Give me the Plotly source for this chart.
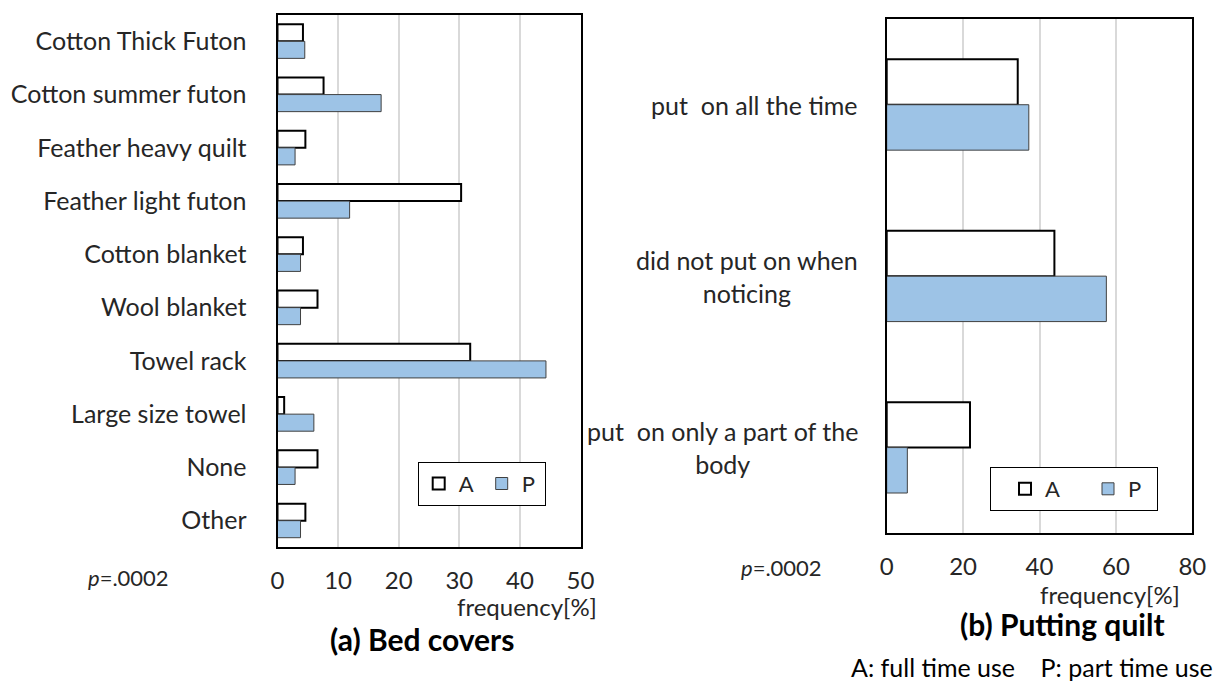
import plotly.graph_objects as go

# ---- data ----
bed_categories = ["Cotton Thick Futon", "Cotton summer futon", "Feather heavy quilt",
                  "Feather light futon", "Cotton blanket", "Wool blanket", "Towel rack",
                  "Large size towel", "None", "Other"]
bed_A = [4.2, 7.6, 4.6, 30.3, 4.2, 6.6, 31.8, 1.1, 6.6, 4.6]
bed_P = [4.5, 17.1, 2.9, 11.9, 3.8, 3.8, 44.3, 6.0, 2.9, 3.8]

quilt_categories = ["put\u00a0 on all the time", "did not put on when<br>noticing",
                    "put\u00a0 on only a part of the<br>body"]
quilt_A = [34.3, 43.9, 21.8]
quilt_P = [37.2, 57.5, 5.4]

left_ticks = [0, 10, 20, 30, 40, 50]
right_ticks = [0, 20, 40, 60, 80]

W, H = 1217, 686
FONT = "Lato"
FS = 25
TICKFS = 24
TXT = "#262626"
BLUE = "#9dc3e6"

def px(x):
    return x / W

def py(y):
    return 1 - y / H

fig = go.Figure()

bwL = 0.32
fig.add_trace(go.Bar(y=bed_categories, x=bed_A, orientation="h", name="A",
                     width=bwL, offset=-bwL,
                     marker=dict(color="white", line=dict(color="black", width=2)),
                     xaxis="x", yaxis="y", legend="legend"))
fig.add_trace(go.Bar(y=bed_categories, x=bed_P, orientation="h", name="P",
                     width=bwL, offset=0,
                     marker=dict(color=BLUE, line=dict(color="#404040", width=1)),
                     xaxis="x", yaxis="y", legend="legend"))

bwR = 0.265
qy = list(range(len(quilt_categories)))
fig.add_trace(go.Bar(y=qy, x=quilt_A, orientation="h", name="A",
                     width=bwR, offset=-bwR,
                     marker=dict(color="white", line=dict(color="black", width=2)),
                     xaxis="x2", yaxis="y2", legend="legend2"))
fig.add_trace(go.Bar(y=qy, x=quilt_P, orientation="h", name="P",
                     width=bwR, offset=0,
                     marker=dict(color=BLUE, line=dict(color="#404040", width=1)),
                     xaxis="x2", yaxis="y2", legend="legend2"))

axis_common = dict(showline=True, mirror=True, linecolor="black", linewidth=2,
                   ticks="", zeroline=False, automargin=False)

fig.update_layout(
    width=W, height=H, autosize=False,
    margin=dict(l=0, r=0, t=0, b=0, pad=0),
    paper_bgcolor="white", plot_bgcolor="white",
    font=dict(family=FONT, size=FS, color=TXT),
    barmode="group",
    xaxis=dict(domain=[px(277.5), px(580.5)], range=[0, 50], tickvals=left_ticks,
               showgrid=True, gridcolor="#d9d9d9", gridwidth=2,
               tickfont=dict(family=FONT, size=TICKFS, color=TXT),
               ticklabelstandoff=11, anchor="y", **axis_common),
    yaxis=dict(domain=[py(547.3), py(14.7)], type="category", autorange="reversed",
               showgrid=False, ticklabelstandoff=24, anchor="x",
               tickfont=dict(family=FONT, size=FS, color=TXT), **axis_common),
    xaxis2=dict(domain=[px(886.7), px(1192.3)], range=[0, 80], tickvals=right_ticks,
                showgrid=True, gridcolor="#d9d9d9", gridwidth=2,
                tickfont=dict(family=FONT, size=TICKFS, color=TXT),
                ticklabelstandoff=11, anchor="y2", **axis_common),
    yaxis2=dict(domain=[py(533.3), py(19)], range=[2.5, -0.5], showgrid=False,
                tickvals=qy, showticklabels=False,
                anchor="x2", **axis_common),
    legend=dict(x=px(417.7), y=py(461.7), xanchor="left", yanchor="top",
                orientation="h", bordercolor="black", borderwidth=1, bgcolor="white",
                entrywidth=18,
                font=dict(family=FONT, size=22, color=TXT)),
    legend2=dict(x=px(990), y=py(467), xanchor="left", yanchor="top",
                 orientation="h", bordercolor="black", borderwidth=1, bgcolor="white",
                 entrywidth=24, indentation=14,
                 font=dict(family=FONT, size=22, color=TXT)),
)

ann = []
# right category labels (lines centred, block right-aligned next to the axis)
for i, lab in enumerate(quilt_categories):
    ann.append(dict(x=px(860), xref="paper", y=i, yref="y2", text=lab,
                    xanchor="right", yanchor="middle", align="center", showarrow=False,
                    font=dict(family=FONT, size=FS, color=TXT)))

ann += [
    dict(x=px(128), y=py(577), text="<i>p</i>=.0002", showarrow=False,
         xanchor="center", yanchor="middle", font=dict(family=FONT, size=22, color=TXT)),
    dict(x=px(781), y=py(567), text="<i>p</i>=.0002", showarrow=False,
         xanchor="center", yanchor="middle", font=dict(family=FONT, size=22, color=TXT)),
    dict(x=px(599), y=py(606), text="frequency[%]", showarrow=False,
         xanchor="right", yanchor="middle", font=dict(family=FONT, size=24, color=TXT)),
    dict(x=px(1182), y=py(594), text="frequency[%]", showarrow=False,
         xanchor="right", yanchor="middle", font=dict(family=FONT, size=24, color=TXT)),
    dict(x=px(422), y=py(639), text="<b>(a) Bed covers</b>", showarrow=False,
         xanchor="center", yanchor="middle", font=dict(family=FONT, size=30, color="black")),
    dict(x=px(1062), y=py(624), text="<b>(b) Putting quilt</b>", showarrow=False,
         xanchor="center", yanchor="middle", font=dict(family=FONT, size=30, color="black")),
    dict(x=px(1215), y=py(667), text="A: full time use\u00a0\u00a0\u00a0\u00a0P: part time use",
         showarrow=False, xanchor="right", yanchor="middle",
         font=dict(family=FONT, size=FS, color="black")),
]
for a in ann:
    a.setdefault("xref", "paper")
    a.setdefault("yref", "paper")
fig.update_layout(annotations=ann)

fig.write_html("out.html",
               config={"displayModeBar": False},
               post_script="document.body.style.margin='0';document.body.style.overflow='hidden';")
